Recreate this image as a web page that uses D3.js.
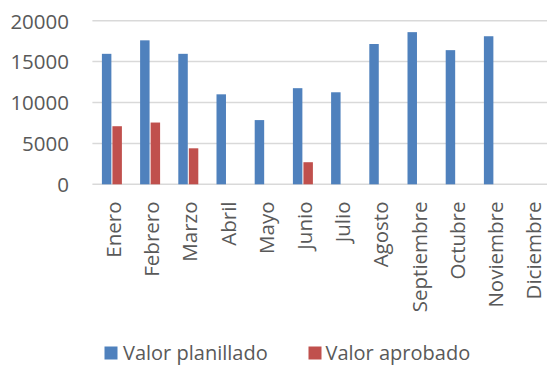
<!DOCTYPE html>
<html>
<head>
<meta charset="utf-8">
<script src="https://cdn.jsdelivr.net/npm/d3@7"></script>
<style>
  html, body { margin: 0; padding: 0; background: #fff; }
  svg { display: block; }
  text { font-family: "Open Sans", "Liberation Sans", Arial, sans-serif; fill: #595959; }
</style>
</head>
<body>
<svg id="chart" width="547" height="365"></svg>
<script>
const months = ["Enero","Febrero","Marzo","Abril","Mayo","Junio","Julio","Agosto","Septiembre","Octubre","Noviembre","Diciembre"];
const seriesNames = ["Valor planillado", "Valor aprobado"];
const valorPlanillado = [15950, 17600, 15950, 11000, 7850, 11750, 11250, 17150, 18600, 16400, 18100, null];
const valorAprobado  = [7100, 7550, 4400, null, null, 2700, null, null, null, null, null, null];
const yTicks = [0, 5000, 10000, 15000, 20000];
const colors = ["#4F81BD", "#C0504D"];

const W = 547, H = 365;
const FONT = "Open Sans, Liberation Sans, Arial, sans-serif";
const FS = "20.5px";
const svg = d3.select("#chart");
const left = 92.4, step = 38.2;
const x0 = d3.scaleBand().domain(months).range([left, left + step * months.length]).padding(0);
const x1 = d3.scaleBand().domain(seriesNames).range([9.5, 29.5]).paddingInner(0.1);
const y = d3.scaleLinear().domain([0, 20000]).range([184.3, 20.7]);

// gridlines
svg.append("g").selectAll("line").data(yTicks).join("line")
  .attr("x1", left).attr("x2", W)
  .attr("y1", d => y(d)).attr("y2", d => y(d))
  .attr("stroke", "#D9D9D9").attr("stroke-width", 1.5);

// y axis labels
const yAxis = d3.axisLeft(y).tickValues(yTicks).tickSize(0).tickPadding(0).tickFormat(d3.format("d"));
const gy = svg.append("g").attr("transform", "translate(69,0)").call(yAxis);
gy.select(".domain").remove();
gy.selectAll("text").style("font-size", FS).attr("fill", "#595959")
  .attr("font-family", FONT).attr("dy", "0.36em");

// bars
const data = [valorPlanillado, valorAprobado];
data.forEach((vals, si) => {
  svg.append("g").selectAll("rect")
    .data(months.map((m, i) => ({m, v: vals[i]})).filter(d => d.v != null))
    .join("rect")
    .attr("x", d => x0(d.m) + x1(seriesNames[si]))
    .attr("width", x1.bandwidth())
    .attr("y", d => y(d.v))
    .attr("height", d => y(0) - y(d.v))
    .attr("fill", colors[si]);
});

// x labels
const xAxis = d3.axisBottom(x0).tickSize(0).tickPadding(0);
const gx = svg.append("g").attr("transform", "translate(0,201.5)").call(xAxis);
gx.select(".domain").remove();
gx.selectAll(".tick text")
  .style("font-size", FS).attr("fill", "#595959")
  .attr("font-family", FONT)
  .attr("text-anchor", "end")
  .attr("transform", "translate(2.4,0) rotate(-90)")
  .attr("x", 0).attr("y", 0).attr("dy", "0.35em");

// legend
const legendItems = [
  {name: seriesNames[0], color: colors[0], sx: 104.5, tx: 123},
  {name: seriesNames[1], color: colors[1], sx: 308.5, tx: 325.5}
];
const lg = svg.append("g");
legendItems.forEach(it => {
  lg.append("rect").attr("x", it.sx).attr("y", 346.5).attr("width", 13).attr("height", 13).attr("fill", it.color);
  lg.append("text").attr("x", it.tx).attr("y", 359.5).style("font-size", "20px").attr("font-family", FONT).text(it.name);
});
</script>
</body>
</html>
